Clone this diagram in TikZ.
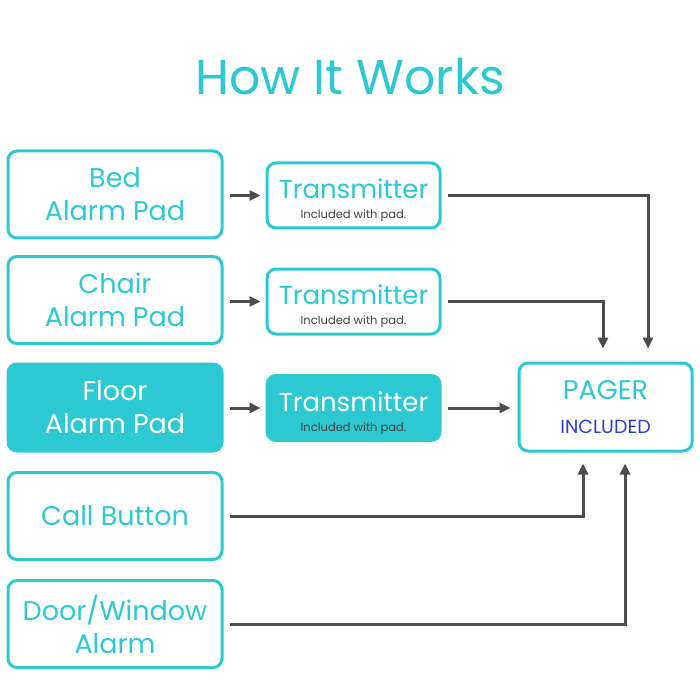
\documentclass[tikz,border=0pt]{standalone}
\usepackage{fontspec}
\setmainfont{Poppins}
\usetikzlibrary{arrows.meta}
\definecolor{aqua}{HTML}{2DC9D3}
\definecolor{arrowgray}{HTML}{4A4D4F}
\definecolor{navy}{HTML}{2A3FD0}
\definecolor{notegray}{HTML}{444444}
\newcommand{\txtext}{{\fontsize{26}{30}\selectfont\rule{0pt}{29pt}Transmitter}\\[-13pt]{\color{notegray}\fontsize{11.5}{14}\selectfont Included with pad.}}

\begin{document}
\begin{tikzpicture}[x=1pt, y=-1pt,
	every node/.style={text=aqua, align=center, font=\fontsize{27}{33}\selectfont},
	source/.style={draw=aqua, line width=3pt, rounded corners=9pt, minimum width=214pt, minimum height=87pt, inner sep=0pt},
	sender/.style={draw=aqua, line width=3pt, rounded corners=9pt, minimum width=173pt, minimum height=65pt, inner sep=0pt},
	active/.style={fill=aqua, text=white},
	link/.style={draw=arrowgray, line width=3pt, -{Triangle[length=11pt,width=10pt]}},]

    \useasboundingbox[fill=white] (0,0) rectangle (700,700);

    \node (title) at (350,77) {\fontsize{49}{49}\selectfont How It Works};

    % sources on the left
    \node[source] (bed)   at (115,194.5) {Bed\\Alarm Pad};
    \node[source] (chair) at (115,300)   {Chair\\Alarm Pad};
    \node[source, active] (floor) at (115,407.5) {Floor\\Alarm Pad};
    \node[source] (call)  at (115,516)   {Call Button};
    \node[source] (door)  at (115,624)   {Door/Window\\Alarm};

    % transmitters
    \node[sender] (txbed)   at (353.5,195.5) {\txtext};
    \node[sender] (txchair) at (353.5,301.5) {\txtext};
    \node[sender, active] (txfloor) at (353.5,408) {\txtext};

    \node[sender, minimum height=88pt] (pager) at (605.5,407) {PAGER\\[1pt]{\color{navy}\fontsize{19}{22}\selectfont INCLUDED}};

    % connectors
    \draw[link, shorten <=6pt, shorten >=5pt] (bed.east |- txbed.west) -- (txbed.west);
    \draw[link, shorten <=6pt, shorten >=5pt] (chair.east |- txchair.west) -- (txchair.west);
    \draw[link, shorten <=6pt, shorten >=5pt] (floor.east |- txfloor.west) -- (txfloor.west);
    \draw[link, shorten <=6pt, shorten >=7pt] (txfloor.east) -- (pager.west |- txfloor.east);
    \draw[link, shorten <=6pt, shorten >=13pt] (txbed.east) -| ([xshift=42.5pt]pager.north);
    \draw[link, shorten <=6pt, shorten >=13pt] (txchair.east) -| ([xshift=-2.5pt]pager.north);
    \draw[link, shorten <=6pt, shorten >=11pt] (call.east) -| ([xshift=-22.5pt]pager.south);
    \draw[link, shorten <=6pt, shorten >=11pt] (door.east) -| ([xshift=19.5pt]pager.south);
\end{tikzpicture}
\end{document}
